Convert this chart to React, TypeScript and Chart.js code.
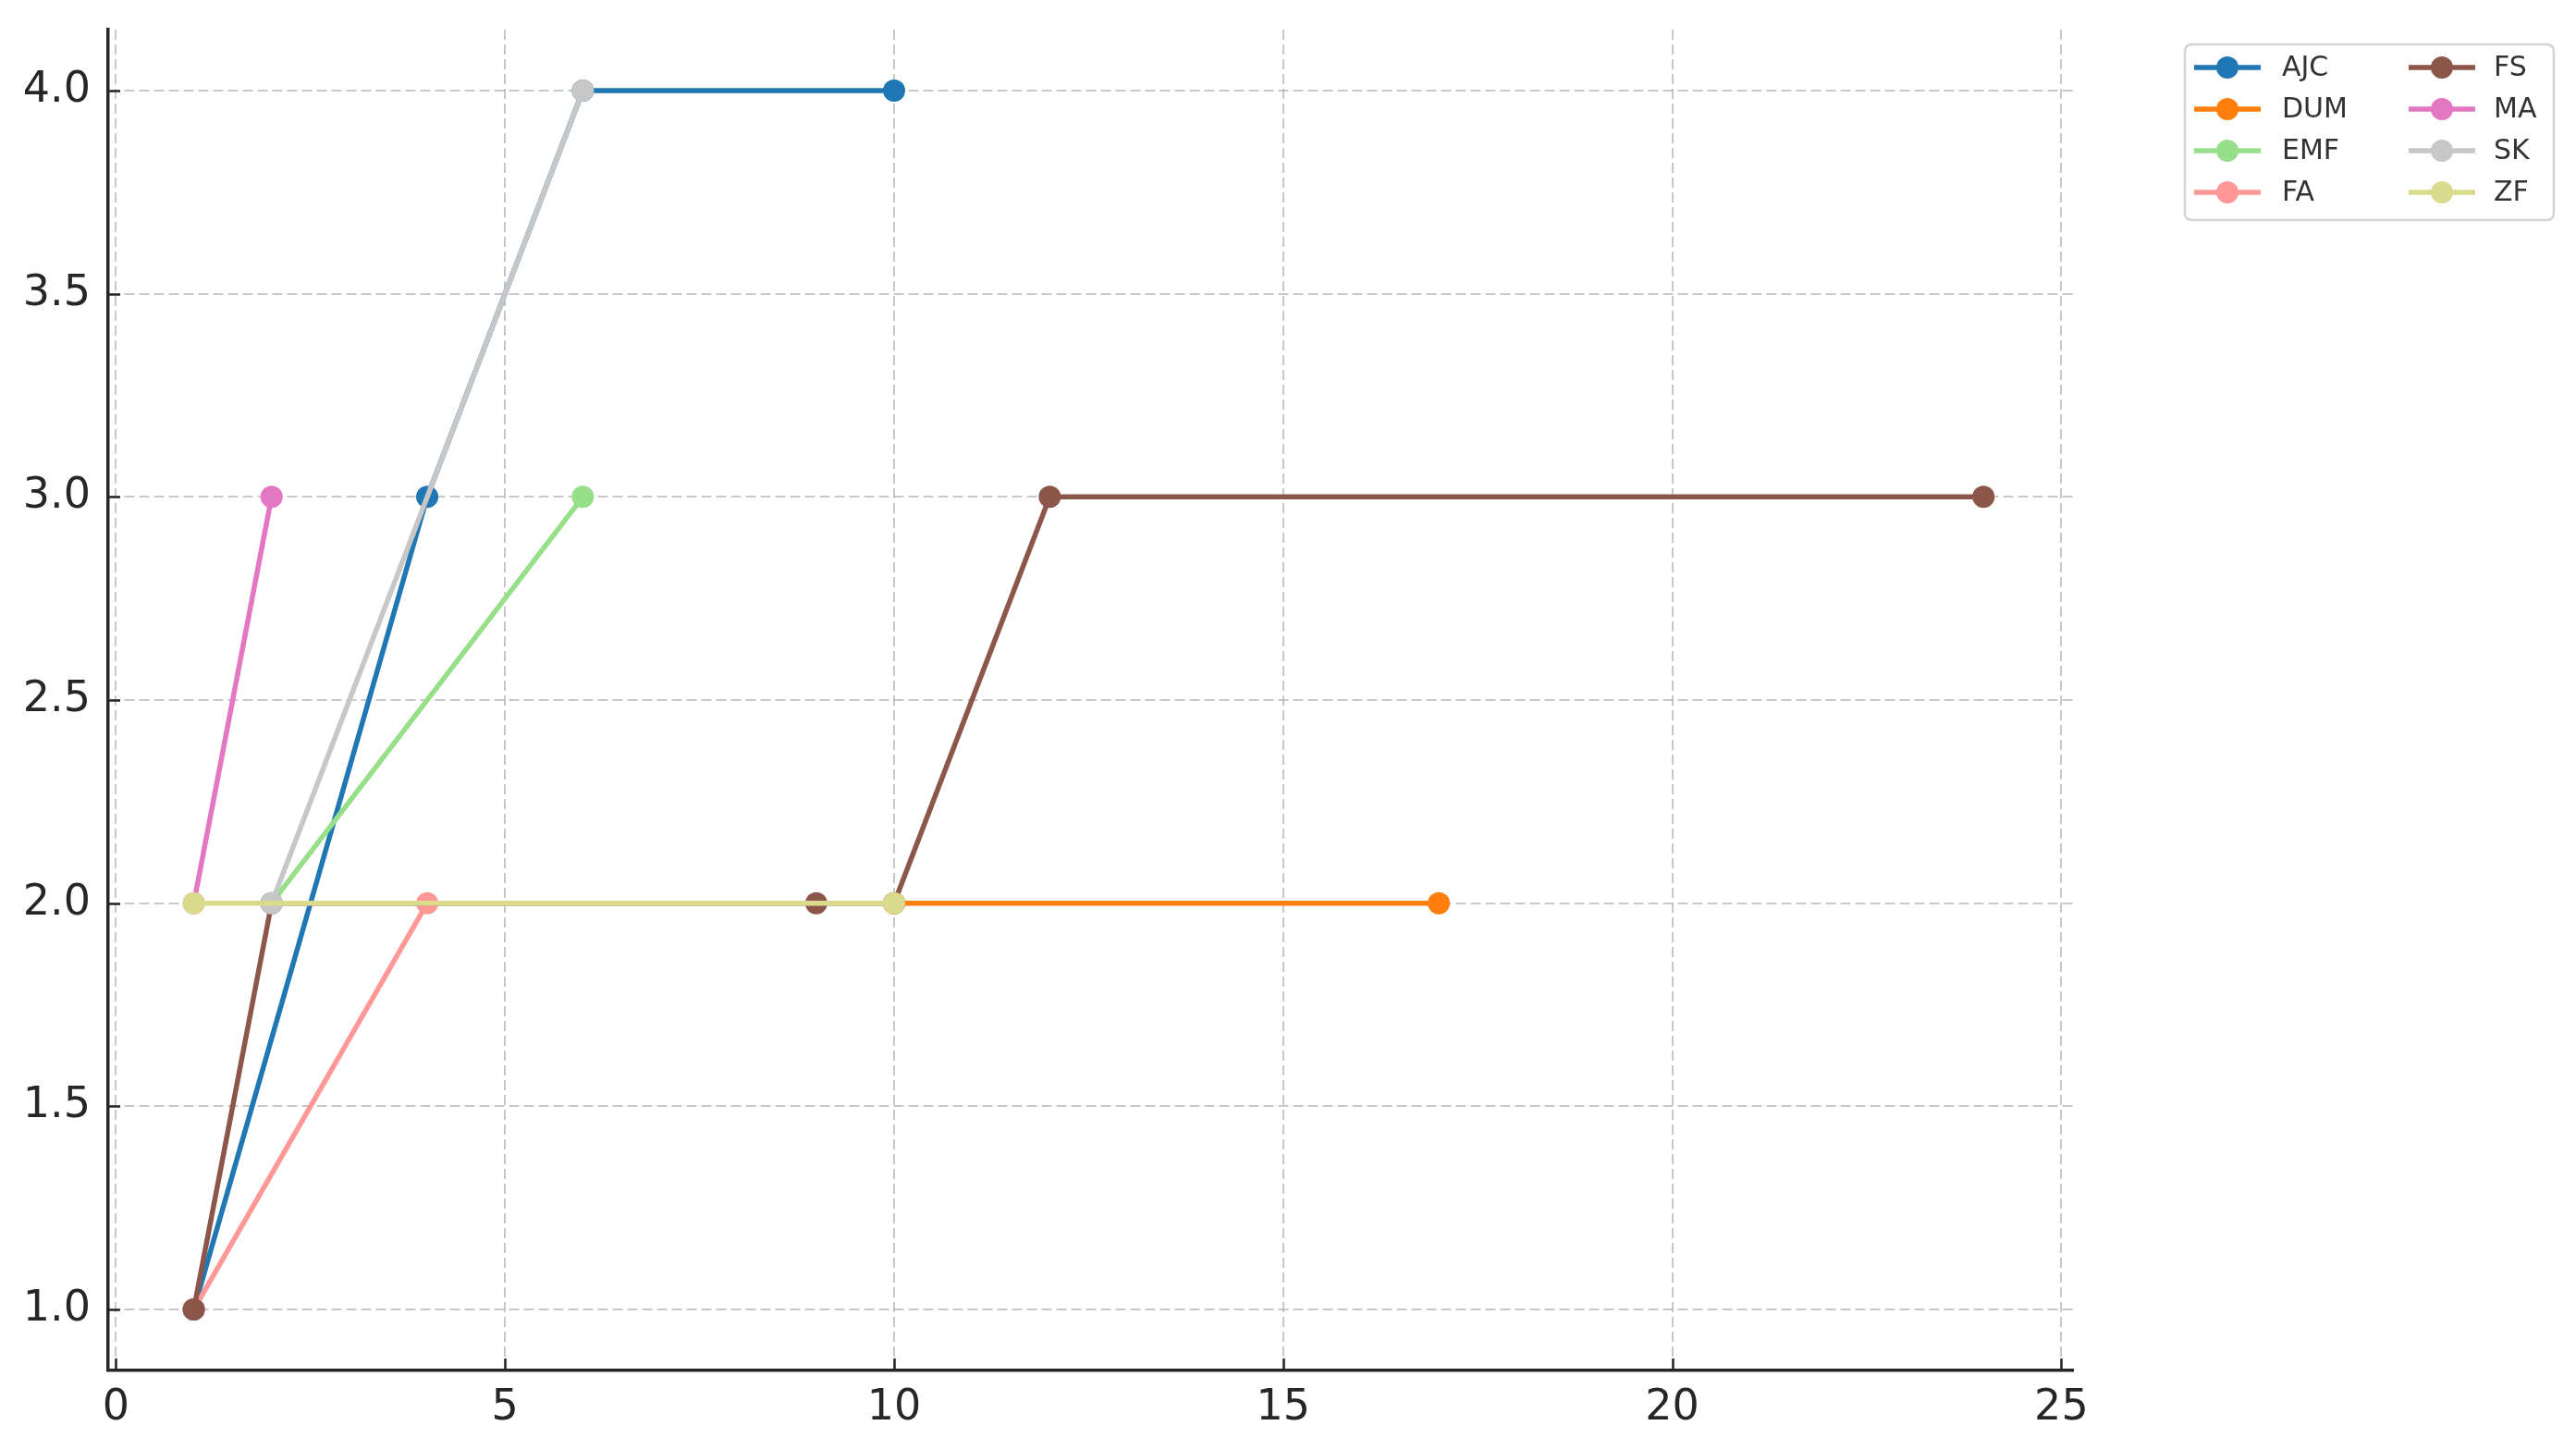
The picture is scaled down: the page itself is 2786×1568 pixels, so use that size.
import React, { useEffect, useRef } from 'react';
import { Chart, registerables } from 'chart.js';

Chart.register(...registerables);

// ---- data ----
const seriesNames = ['AJC', 'DUM', 'EMF', 'FA', 'FS', 'MA', 'SK', 'ZF'];
const seriesColors = ['#1f77b4', '#ff7f0e', '#98df8a', '#ff9896', '#8c564b', '#e377c2', '#c7c7c7', '#dbdb8d'];

const ajcX = [1, 4, 6, 10];
const ajcY = [1, 3, 4, 4];
const dumX = [10, 17];
const dumY = [2, 2];
const emfX = [2, 6];
const emfY = [2, 3];
const faX = [1, 4];
const faY = [1, 2];
const fsX = [1, 2, 9, 10, 12, 24];
const fsY = [1, 2, 2, 2, 3, 3];
const maX = [1, 2];
const maY = [2, 3];
const skX = [2, 6];
const skY = [2, 4];
const zfX = [1, 10];
const zfY = [2, 2];

const seriesXs = [ajcX, dumX, emfX, faX, fsX, maX, skX, zfX];
const seriesYs = [ajcY, dumY, emfY, faY, fsY, maY, skY, zfY];

const xTicks = [0, 5, 10, 15, 20, 25];
const yTicks = [1.0, 1.5, 2.0, 2.5, 3.0, 3.5, 4.0];

const FONT = "'DejaVu Sans', 'Liberation Sans', sans-serif";

const W = 2786;
const H = 1568;
const AREA = { left: 117, top: 32, right: 2242, bottom: 1482 };
const AXIS_COLOR = '#262626';

// inward tick marks (matplotlib direction='in')
const tickPlugin = {
  id: 'inTicks',
  afterDatasetsDraw(chart: any) {
    const ctx = chart.ctx as CanvasRenderingContext2D;
    const xs = chart.scales.x;
    const ys = chart.scales.y;
    const len = 13;
    ctx.save();
    ctx.strokeStyle = AXIS_COLOR;
    ctx.lineWidth = 2.5;
    ctx.beginPath();
    xTicks.forEach((v) => {
      const px = Math.round(xs.getPixelForValue(v)) + 0.5;
      ctx.moveTo(px, xs.top);
      ctx.lineTo(px, xs.top - len);
    });
    yTicks.forEach((v) => {
      const py = Math.round(ys.getPixelForValue(v)) + 0.5;
      ctx.moveTo(ys.right, py);
      ctx.lineTo(ys.right + len, py);
    });
    ctx.stroke();
    ctx.restore();
  },
};

const legendPlugin = {
  id: 'mplLegend',
  afterDraw(chart: any) {
    const ctx = chart.ctx as CanvasRenderingContext2D;
    ctx.save();
    const bx = 2363, by = 48, bw = 399, bh = 190, r = 8;
    ctx.beginPath();
    ctx.moveTo(bx + r, by);
    ctx.lineTo(bx + bw - r, by);
    ctx.quadraticCurveTo(bx + bw, by, bx + bw, by + r);
    ctx.lineTo(bx + bw, by + bh - r);
    ctx.quadraticCurveTo(bx + bw, by + bh, bx + bw - r, by + bh);
    ctx.lineTo(bx + r, by + bh);
    ctx.quadraticCurveTo(bx, by + bh, bx, by + bh - r);
    ctx.lineTo(bx, by + r);
    ctx.quadraticCurveTo(bx, by, bx + r, by);
    ctx.closePath();
    ctx.fillStyle = 'rgba(255,255,255,0.85)';
    ctx.fill();
    ctx.strokeStyle = '#d4d4d4';
    ctx.lineWidth = 2.5;
    ctx.stroke();

    ctx.font = `30px ${FONT}`;
    ctx.textBaseline = 'middle';
    ctx.textAlign = 'left';
    seriesNames.forEach((name, i) => {
      const col = i < 4 ? 0 : 1;
      const row = i % 4;
      const x0 = col === 0 ? 2373 : 2605;
      const y = 73 + row * 45;
      const color = seriesColors[i];
      ctx.strokeStyle = color;
      ctx.lineWidth = 5.5;
      ctx.beginPath();
      ctx.moveTo(x0, y);
      ctx.lineTo(x0 + 72, y);
      ctx.stroke();
      ctx.fillStyle = color;
      ctx.beginPath();
      ctx.arc(x0 + 36, y, 12, 0, Math.PI * 2);
      ctx.fill();
      ctx.fillStyle = '#333333';
      ctx.fillText(name, col === 0 ? 2468 : 2697, y + 1);
    });
    ctx.restore();
  },
};

export default function App() {
  const canvasRef = useRef<HTMLCanvasElement | null>(null);

  useEffect(() => {
    const canvas = canvasRef.current;
    if (!canvas) return;
    const n = seriesNames.length;
    const datasets = seriesNames.map((name, i) => ({
      label: name,
      data: seriesXs[i].map((x, j) => ({ x, y: seriesYs[i][j] })),
      borderColor: seriesColors[i],
      backgroundColor: seriesColors[i],
      pointBackgroundColor: seriesColors[i],
      pointBorderWidth: 0,
      pointRadius: 12,
      borderWidth: 5.5,
      tension: 0,
      fill: false,
      order: n - i,
    }));

    const gridX = {
      color: 'rgba(176,176,176,0.7)',
      lineWidth: 2,
      drawTicks: true,
      tickLength: 13,
      tickColor: 'rgba(0,0,0,0)',
    };
    const gridY = {
      color: 'rgba(176,176,176,0.7)',
      lineWidth: 2,
      drawTicks: true,
      tickLength: 19,
      tickColor: 'rgba(0,0,0,0)',
    };

    const chart = new Chart(canvas, {
      type: 'line',
      data: { datasets },
      plugins: [tickPlugin, legendPlugin],
      options: {
        responsive: false,
        animation: false,
        devicePixelRatio: 1,
        layout: {
          padding: { left: 0, top: AREA.top, right: W - AREA.right, bottom: 0 },
        },
        plugins: {
          legend: { display: false },
          tooltip: { enabled: false },
          title: { display: false },
        },
        scales: {
          x: {
            type: 'linear',
            min: -0.1,
            max: 25.15,
            afterBuildTicks: (scale: any) => {
              scale.ticks = xTicks.map((v) => ({ value: v }));
            },
            afterFit: (scale: any) => {
              scale.height = H - AREA.bottom;
            },
            ticks: {
              font: { family: FONT, size: 46 },
              color: AXIS_COLOR,
              padding: 0,
              maxRotation: 0,
              callback: (v: any) => String(v),
            },
            grid: gridX,
            border: { display: true, color: AXIS_COLOR, width: 3.5, dash: [11, 5] },
          },
          y: {
            type: 'linear',
            min: 0.85,
            max: 4.15,
            afterBuildTicks: (scale: any) => {
              scale.ticks = yTicks.map((v) => ({ value: v }));
            },
            afterFit: (scale: any) => {
              scale.width = AREA.left;
            },
            ticks: {
              font: { family: FONT, size: 46 },
              color: AXIS_COLOR,
              padding: 0,
              callback: (v: any) => Number(v).toFixed(1),
            },
            grid: gridY,
            border: { display: true, color: AXIS_COLOR, width: 3.5, dash: [11, 5] },
          },
        },
      },
    } as any);

    return () => {
      chart.destroy();
    };
  }, []);

  return (
    <div style={{ position: 'fixed', left: 0, top: 0, width: W, height: H, background: '#ffffff' }}>
      <canvas ref={canvasRef} width={W} height={H} style={{ width: W, height: H, display: 'block' }} />
    </div>
  );
}
